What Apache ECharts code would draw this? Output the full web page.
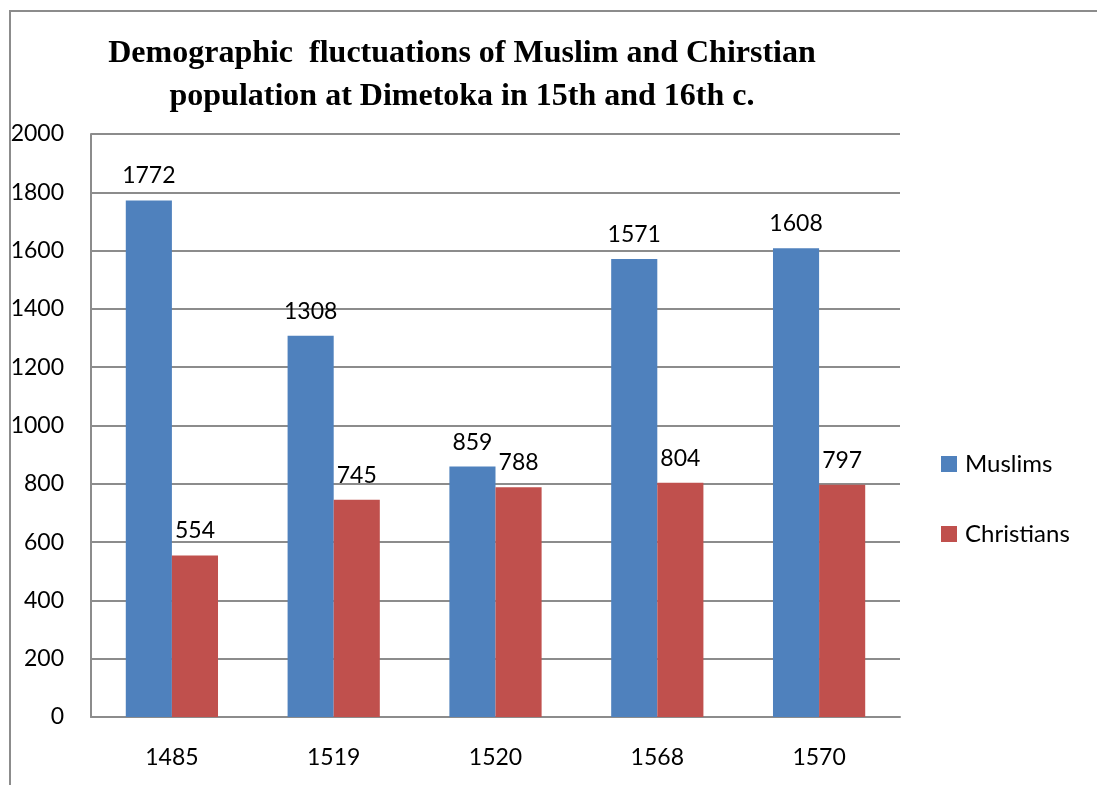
<!DOCTYPE html>
<html><head><meta charset="utf-8">
<script src="https://cdn.jsdelivr.net/npm/echarts@6/dist/echarts.min.js"></script>
<style>html,body{margin:0;padding:0;background:#fff}#c{width:1097px;height:785px}</style>
</head><body><div id="c"></div>
<script>
const categories = ['1485', '1519', '1520', '1568', '1570'];
const muslims = [1772, 1308, 859, 1571, 1608];
const christians = [554, 745, 788, 804, 797];
const seriesNames = ['Muslims', 'Christians'];
const titleText = 'Demographic  fluctuations of Muslim and Chirstian\npopulation at Dimetoka in 15th and 16th c.';

const chart = echarts.init(document.getElementById('c'));
const labelStyle = {show: true, position: 'top', distance: 13, color: '#000', fontFamily: 'Lato', fontSize: 23};
chart.setOption({
  animation: false,
  graphic: [{type: 'rect', shape: {x: 10, y: 11, width: 1200, height: 1000}, style: {fill: 'none', stroke: '#8c8c8c', lineWidth: 2}}],
  title: {text: titleText, left: 462, top: 32, textAlign: 'center', padding: 0,
    textStyle: {fontFamily: 'Liberation Serif', fontWeight: 'bold', fontSize: 32, lineHeight: 43, color: '#000'}},
  legend: {orient: 'vertical', left: 941, top: 452, padding: 0, itemWidth: 16, itemHeight: 16, itemGap: 46, icon: 'rect',
    textStyle: {fontFamily: 'Lato', fontSize: 24, color: '#000', padding: [0, 0, 0, 3]}},
  grid: {left: 91, right: 197, top: 134, bottom: 68},
  xAxis: {type: 'category', data: categories,
    axisLine: {lineStyle: {color: '#8c8c8c', width: 2}}, axisTick: {show: false},
    axisLabel: {margin: 29, color: '#000', fontFamily: 'Lato', fontSize: 23}},
  yAxis: {type: 'value', min: 0, max: 2000, interval: 200,
    axisLine: {show: true, lineStyle: {color: '#8c8c8c', width: 2}}, axisTick: {show: false},
    splitLine: {lineStyle: {color: '#8c8c8c', width: 2}},
    axisLabel: {margin: 27, color: '#000', fontFamily: 'Lato', fontSize: 23, padding: [5, 0, 0, 0], formatter: v => String(v)}},
  series: [
    {name: seriesNames[0], type: 'bar', data: muslims, barGap: '0%', barCategoryGap: '43%',
      itemStyle: {color: '#4f81bd'}, label: labelStyle},
    {name: seriesNames[1], type: 'bar', data: christians, barGap: '0%', barCategoryGap: '43%',
      itemStyle: {color: '#c0504d'}, label: labelStyle}
  ]
});
</script></body></html>
